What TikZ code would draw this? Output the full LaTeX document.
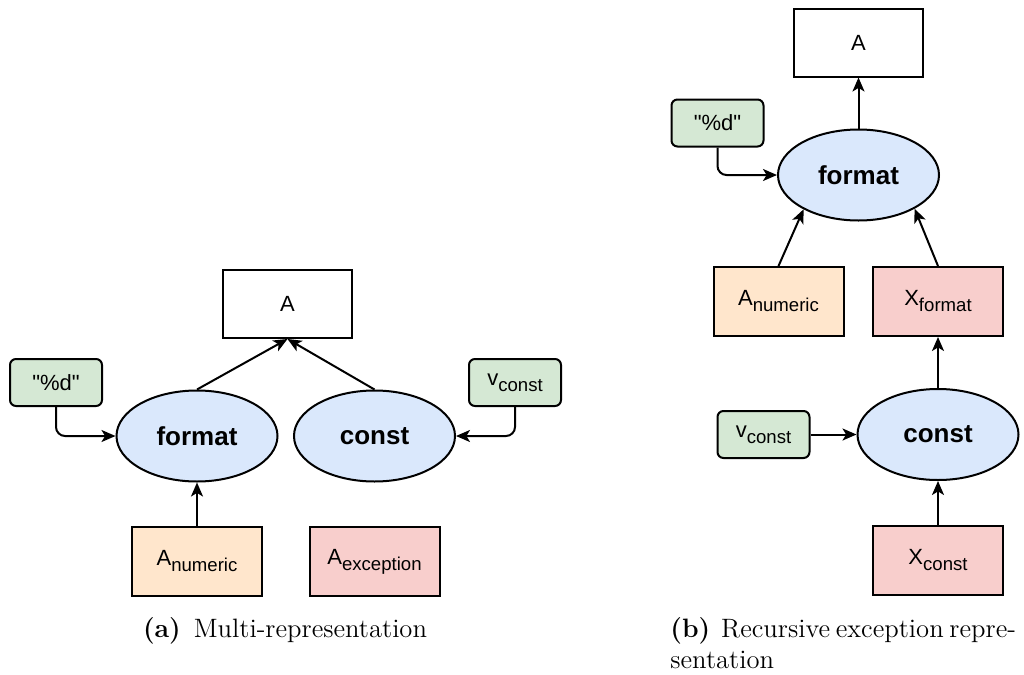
\documentclass[tikz,border=0pt]{standalone}
\usepackage{fontspec}
\newfontfamily\arialf{Liberation Sans}
\usetikzlibrary{arrows.meta,shapes.geometric}
\definecolor{gfill}{HTML}{D5E8D4}
\definecolor{bfill}{HTML}{DAE8FC}
\definecolor{ofill}{HTML}{FFE6CC}
\definecolor{rfill}{HTML}{F8CECC}
\newcommand\mysub[1]{\raisebox{-3pt}{\fontsize{9.3}{10}\selectfont #1}}
\tikzset{
  nodebase/.style={draw=black, line width=1pt, inner sep=0pt, font=\arialf\fontsize{11}{13}\selectfont},
  valbox/.style={nodebase, rectangle, minimum width=64.5pt, minimum height=34pt, fill=white},
  litbox/.style={nodebase, rectangle, rounded corners=3pt, minimum width=46pt, minimum height=23.5pt, fill=gfill},
  opnode/.style={nodebase, ellipse, minimum width=80.5pt, minimum height=45.5pt, fill=bfill, font=\arialf\bfseries\fontsize{13}{15}\selectfont},
  numbox/.style={nodebase, rectangle, minimum width=65pt, minimum height=34.5pt, fill=ofill},
  excbox/.style={nodebase, rectangle, minimum width=65pt, minimum height=34.5pt, fill=rfill},
  conn/.style={line width=1pt, -{Stealth[length=7pt, width=6pt, inset=1.8pt]}},
  elbow/.style={conn, rounded corners=4.5pt},
  captext/.style={font=\fontsize{13.3}{16}\selectfont, inner sep=0pt}
}
\begin{document}
\begin{tikzpicture}[x=0.5pt, y=-0.5pt]
\useasboundingbox (0,0) rectangle (1024,675);
% ---- (a) ----
\node[valbox] (A1) at (287.5,304) {A};
\node[litbox] (d1) at (56,382.5) {"\%d"};
\node[opnode] (f1) at (197,436) {format};
\node[opnode] (c1) at (374.5,436) {const};
\node[litbox] (v1) at (515,382.5) {v\mysub{const}};
\node[numbox] (n1) at (197,561.5) {A\mysub{numeric}};
\node[excbox] (e1) at (374.5,561.5) {A\mysub{exception}};
\draw[conn] (f1.north) -- (A1.south);
\draw[conn] (c1.north) -- (A1.south);
\draw[elbow] (d1.south) |- (f1.west);
\draw[elbow] (v1.south) |- (c1.east);
\draw[conn] (n1.north) -- (f1.south);
\node[captext, anchor=base] (capa) at (285,637) {\hbox to 142pt{\textbf{(a)}\hfill Multi-representation}};
% ---- (b) ----
\node[valbox] (A2) at (858.5,42.5) {A};
\node[litbox] (d2) at (717.5,123) {"\%d"};
\node[opnode] (f2) at (858.5,175) {format};
\node[numbox] (n2) at (778.5,301.5) {A\mysub{numeric}};
\node[excbox] (xf) at (938,301.5) {X\mysub{format}};
\node[opnode] (c2) at (938,434.5) {const};
\node[litbox] (v2) at (763.5,434.5) {v\mysub{const}};
\node[excbox] (xc) at (938,560) {X\mysub{const}};
\draw[conn] (f2.north) -- (A2.south);
\draw[elbow] (d2.south) |- (f2.west);
\draw[conn] (n2.north) -- (f2.212);
\draw[conn] (xf.north) -- (f2.329);
\draw[conn] (c2.north) -- (xf.south);
\draw[conn] (v2.east) -- (c2.west);
\draw[conn] (xc.north) -- (c2.south);
\node[captext, anchor=base west] (capb1) at (670,637) {\hbox to 172pt{\textbf{(b)}\hspace{2.5pt} Recursive exception repre-}};
\node[captext, anchor=base west] (capb2) at (670,668) {sentation};
\end{tikzpicture}
\end{document}
